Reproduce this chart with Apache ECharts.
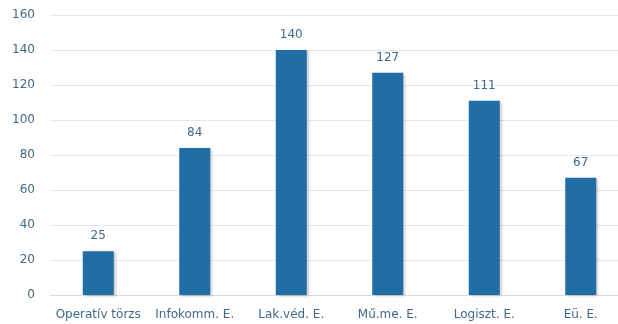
<!DOCTYPE html>
<html>
<head>
<meta charset="utf-8">
<script src="https://cdn.jsdelivr.net/npm/echarts@6/dist/echarts.min.js"></script>
<style>
  html, body { margin: 0; padding: 0; background: #fff; }
  #chart { width: 618px; height: 324px; }
</style>
</head>
<body>
<div id="chart"></div>
<script>
var categories = ['Operatív törzs', 'Infokomm. E.', 'Lak.véd. E.', 'Mű.me. E.', 'Logiszt. E.', 'Eü. E.'];
var values = [25, 84, 140, 127, 111, 67];

var chart = echarts.init(document.getElementById('chart'));
var textColor = '#41698a';
var font = 'DejaVu Sans';
chart.setOption({
  animation: false,
  grid: { left: 50, top: 15, width: 579, height: 280, containLabel: false, outerBoundsMode: 'none' },
  xAxis: {
    type: 'category',
    data: categories,
    axisLine: { lineStyle: { color: '#d9d9d9' } },
    axisTick: { show: false },
    axisLabel: { color: textColor, fontFamily: font, fontSize: 12, margin: 14, interval: 0 }
  },
  yAxis: {
    type: 'value',
    min: 0,
    max: 160,
    interval: 20,
    axisLine: { show: false },
    axisTick: { show: false },
    splitLine: { lineStyle: { color: '#e8e8e8' } },
    axisLabel: { color: textColor, fontFamily: font, fontSize: 12, margin: 15 }
  },
  series: [{
    type: 'bar',
    data: values,
    barWidth: 31,
    itemStyle: {
      color: '#216ea6',
      shadowColor: 'rgba(0,0,0,0.25)',
      shadowBlur: 3,
      shadowOffsetX: 2,
      shadowOffsetY: 1
    },
    label: {
      show: true,
      position: 'top',
      distance: 9,
      color: textColor,
      fontFamily: font,
      fontSize: 12
    }
  }]
});
</script>
</body>
</html>
